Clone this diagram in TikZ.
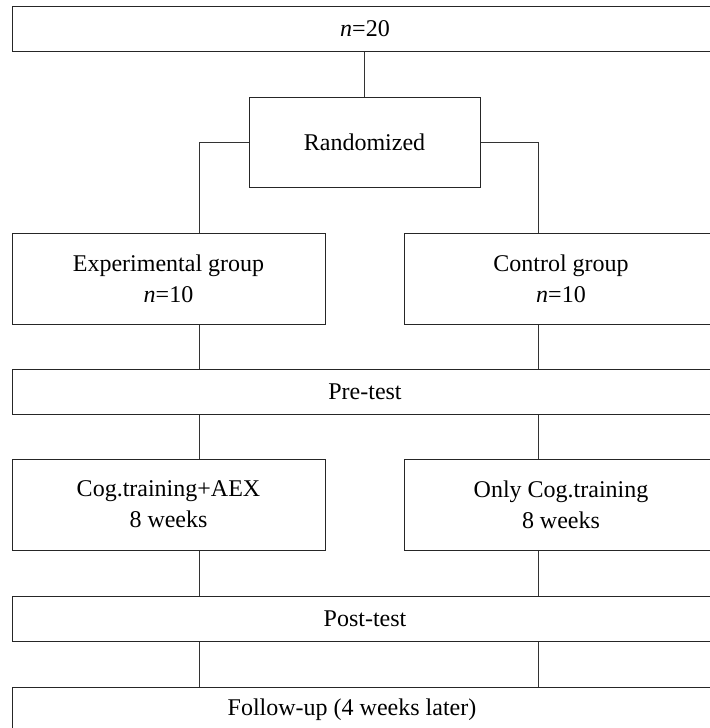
\documentclass[tikz,border=0pt]{standalone}
\usepackage{fontspec}
\setmainfont{Liberation Serif}

\tikzset{
  box/.style={draw=black!85, line width=0.5pt, inner sep=0pt, align=center},
  widebox/.style={box, minimum width=352.9pt, minimum height=22.5pt},
  halfbox/.style={box, minimum width=156.5pt, minimum height=45.5pt},
  link/.style={draw=black!80, line width=0.5pt}
}

\begin{document}
\begin{tikzpicture}[x=0.5pt, y=-0.5pt, font=\fontsize{12}{15.5}\selectfont]
  \useasboundingbox (0,0) rectangle (709,728);

  % Column positions of the vertical links
  \coordinate (colL) at (199,0);
  \coordinate (colR) at (538,0);

  % Boxes (right side and bottom run past the frame)
  \node[widebox] (all) at (365,28.8) {\textit{n}=20};
  \node[box, minimum width=115.5pt, minimum height=45pt] (rand) at (364.5,142) {Randomized};
  \node[halfbox] (exp) at (168.5,278.5) {Experimental group\\\textit{n}=10};
  \node[halfbox] (ctrl) at (561,278.5) {Control group\\\textit{n}=10};
  \node[widebox] (pre) at (365,391.5) {Pre-test};
  \node[halfbox] (cogA) at (168.5,504.5) {Cog.training+AEX\\8 weeks};
  \node[halfbox] (cogB) at (561,504.5) {Only Cog.training\\8 weeks};
  \node[widebox] (post) at (365,618.5) {Post-test};
  \node[widebox, label={[xshift=-6.5pt]center:Follow-up (4 weeks later)}] (fu) at (365,709.5) {};

  % Links
  \draw[link] (all.south -| rand.north) -- (rand.north);
  \draw[link] (rand.west) -| (exp.north -| colL);
  \draw[link] (rand.east) -| (ctrl.north -| colR);
  \foreach \c/\u/\d in {colL/exp/pre, colL/pre/cogA, colL/cogA/post, colL/post/fu,
                        colR/ctrl/pre, colR/pre/cogB, colR/cogB/post, colR/post/fu} {
    \draw[link] (\u.south -| \c) -- (\d.north -| \c);
  }
\end{tikzpicture}
\end{document}
